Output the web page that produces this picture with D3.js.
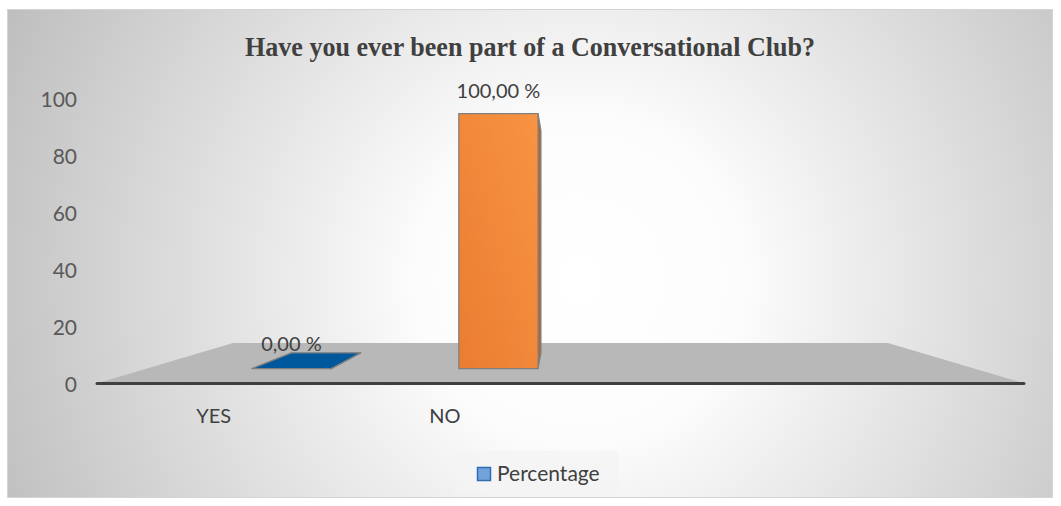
<!DOCTYPE html>
<html><head><meta charset="utf-8">
<script src="https://cdn.jsdelivr.net/npm/d3@7"></script>
<style>html,body{margin:0;padding:0;background:#fff;}svg{display:block;}</style>
</head><body>
<svg id="chart" width="1061" height="506"></svg>
<script>
// ---- data ----
const title = "Have you ever been part of a Conversational Club?";
const categories = ["YES", "NO"];
const categorySlots = ["YES", "NO", "slot3", "slot4"]; // empty category slots in the source chart
const values = [0, 100];
const valueLabels = ["0,00 %", "100,00 %"];
const barColors = ["#00589c", "#ed7d31"];
const yTicks = [0, 20, 40, 60, 80, 100];
const seriesName = "Percentage";

// ---- layout ----
const W = 1061, H = 506;
const svg = d3.select("#chart");
const font = "Lato, 'Noto Sans', sans-serif";

const defs = svg.append("defs");
const bg = defs.append("radialGradient").attr("id", "bg").attr("gradientUnits", "userSpaceOnUse")
  .attr("cx", 580).attr("cy", 280).attr("r", 650);
bg.append("stop").attr("offset", "0").attr("stop-color", "#ffffff");
bg.append("stop").attr("offset", "0.25").attr("stop-color", "#fcfcfc");
bg.append("stop").attr("offset", "1").attr("stop-color", "#bcbcbc");
const og = defs.append("linearGradient").attr("id", "og")
  .attr("x1", 0).attr("y1", 1).attr("x2", 1).attr("y2", 0);
og.append("stop").attr("offset", "0").attr("stop-color", "#ea7c30");
og.append("stop").attr("offset", "1").attr("stop-color", "#f89444");

svg.append("rect").attr("x", 7.5).attr("y", 9.5).attr("width", 1045).attr("height", 488)
  .attr("fill", "url(#bg)").attr("stroke", "#d4d4d4").attr("stroke-width", 1);

// front-plane scales
const x = d3.scaleBand().domain(categorySlots).range([98, 1023]);
const y = d3.scaleLinear().domain([0, 100]).range([383, 98]);

// perspective projection toward a vanishing point
const V = { x: 560.5, y: 246 };
const proj = (px, py, s) => [V.x + (px - V.x) * s, V.y + (py - V.y) * s];
const sFloorBack = 0.708, sBarFront = 0.895, sBarBack = 0.78;
const barOffset = 0.2, barWidth = 0.383;

// floor
const [x0, x1] = x.range();
const floorPts = [proj(x0, y(0), 1), proj(x1, y(0), 1), proj(x1, y(0), sFloorBack), proj(x0, y(0), sFloorBack)];
svg.append("polygon").attr("points", floorPts.map(p => p.join(",")).join(" ")).attr("fill", "#b8b8b8");

// axis line
svg.append("line").attr("x1", x0 - 1).attr("x2", x1 + 1).attr("y1", y(0) + 0.5).attr("y2", y(0) + 0.5)
  .attr("stroke", "#404040").attr("stroke-width", 3).attr("stroke-linecap", "round");

// bars
const gBars = svg.append("g");
categories.forEach((c, i) => {
  const cx = x(c) + x.bandwidth() / 2 + barOffset * x.step();
  const bl = cx - barWidth * x.step() / 2, br = cx + barWidth * x.step() / 2;
  const yt = y(values[i]), yb = y(0);
  const poly = (pts, fill) => gBars.append("polygon")
    .attr("points", pts.map(p => p.join(",")).join(" "))
    .attr("fill", fill).attr("stroke", "#7f7f7f").attr("stroke-width", 1.2).attr("stroke-linejoin", "round");
  const fill = i === 1 ? "url(#og)" : barColors[i];
  const side = i === 1 ? "#b8612a" : "#003f70";
  if (br < V.x) poly([proj(br, yt, sBarFront), proj(br, yt, sBarBack), proj(br, yb, sBarBack), proj(br, yb, sBarFront)], side);
  if (bl > V.x) poly([proj(bl, yt, sBarFront), proj(bl, yt, sBarBack), proj(bl, yb, sBarBack), proj(bl, yb, sBarFront)], side);
  if (yt > V.y) poly([proj(bl, yt, sBarFront), proj(br, yt, sBarFront), proj(br, yt, sBarBack), proj(bl, yt, sBarBack)], barColors[i]);
  if (yb - yt > 0) poly([proj(bl, yt, sBarFront), proj(br, yt, sBarFront), proj(br, yb, sBarFront), proj(bl, yb, sBarFront)], fill);
  const top = proj(cx, yt, sBarFront);
  svg.append("text").attr("x", top[0]).attr("y", top[1] - (values[i] === 0 ? 18 : 16))
    .attr("text-anchor", "middle").attr("font-family", font).attr("font-size", 20)
    .attr("fill", "#404040").text(valueLabels[i]);
});

// y axis labels
svg.append("g").selectAll("text").data(yTicks).join("text")
  .attr("x", 77).attr("y", d => y(d) + 8.5).attr("text-anchor", "end")
  .attr("font-family", font).attr("font-size", 21).attr("fill", "#595959").text(d => d);

// category labels
svg.append("g").selectAll("text").data(categories).join("text")
  .attr("x", d => x(d) + x.bandwidth() / 2).attr("y", 423).attr("text-anchor", "middle")
  .attr("font-family", font).attr("font-size", 20).attr("fill", "#404040").text(d => d);

// title
svg.append("text").attr("x", 530).attr("y", 56).attr("text-anchor", "middle")
  .attr("font-family", "'Liberation Serif', 'Times New Roman', serif").attr("font-weight", "bold")
  .attr("font-size", 27).attr("fill", "#404040").attr("textLength", 570).attr("lengthAdjust", "spacingAndGlyphs")
  .text(title);

// legend
const lg = svg.append("g");
lg.append("rect").attr("x", 455).attr("y", 451).attr("width", 164).attr("height", 43).attr("fill", "#f4f4f4").attr("opacity", 0.7);
lg.append("rect").attr("x", 477.5).attr("y", 467.5).attr("width", 13).attr("height", 13)
  .attr("fill", "#72a2d8").attr("stroke", "#2f6eb5").attr("stroke-width", 1.5);
lg.append("text").attr("x", 497).attr("y", 481).attr("font-family", font).attr("font-size", 21)
  .attr("fill", "#404040").text(seriesName);
</script>
</body></html>
